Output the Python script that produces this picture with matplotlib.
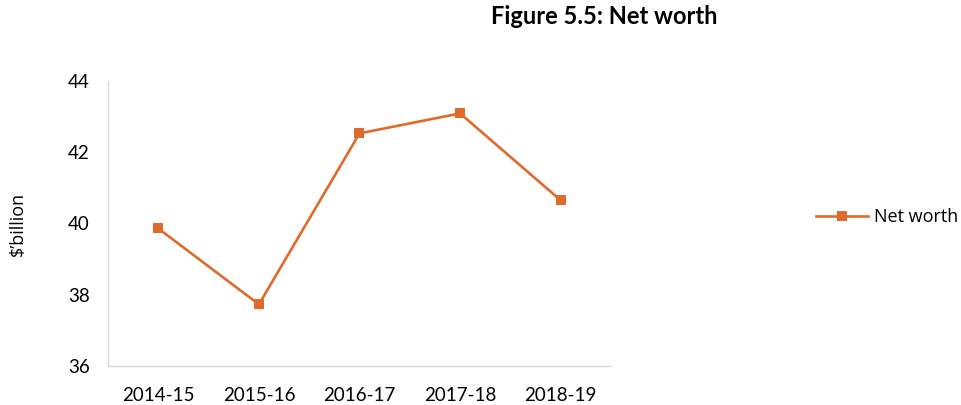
import matplotlib
matplotlib.use("Agg")
import matplotlib.pyplot as plt

categories = ["2014-15", "2015-16", "2016-17", "2017-18", "2018-19"]
net_worth = [39.86, 37.73, 42.53, 43.09, 40.65]
y_ticks = [36, 38, 40, 42, 44]

color = "#E06A2B"
font = ["Lato", "DejaVu Sans"]

fig = plt.figure(figsize=(9.62, 4.05), dpi=100)
ax = fig.add_axes([108/962, 1 - 366/405, (611-108)/962, (366-81)/405])

x = list(range(len(categories)))
ax.plot(x, net_worth, color=color, linewidth=1.9, marker="s", markersize=6.5,
        markeredgewidth=0, label="Net worth")

ax.set_xlim(-0.5, len(categories) - 0.5)
ax.set_ylim(36, 44)
ax.set_yticks(y_ticks)
ax.set_xticks(x)
ax.set_xticklabels(categories, fontsize=13.5, family=font)
ax.set_yticklabels([str(v) for v in y_ticks], fontsize=13.5, family=font)
ax.tick_params(axis="both", length=0, colors="#000000")
ax.tick_params(axis="y", pad=13)
ax.tick_params(axis="x", pad=15)

for s in ["top", "right"]:
    ax.spines[s].set_visible(False)
for s in ["left", "bottom"]:
    ax.spines[s].set_color("#D9D9D9")
    ax.spines[s].set_linewidth(1.0)

ax.set_ylabel("$\u2019billion", fontsize=13, family=["Open Sans", "DejaVu Sans"], labelpad=30)

fig.text(604/962, 1 - 17/405, "Figure 5.5: Net worth", ha="center", va="center",
         fontsize=17, fontweight="bold", family=font)

leg = fig.legend(loc="center left", bbox_to_anchor=(816/962, 1 - 217/405),
                 frameon=False, handlelength=2.9, handletextpad=0.3, borderpad=0,
                 borderaxespad=0,
                 prop={"family": ["Open Sans", "DejaVu Sans"], "size": 13})

fig.savefig("out.png", dpi=100)
